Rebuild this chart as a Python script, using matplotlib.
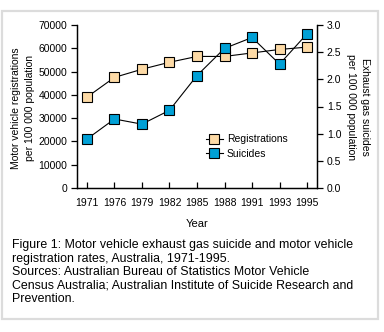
import matplotlib
matplotlib.use('Agg')
import matplotlib.pyplot as plt
from matplotlib.patches import Rectangle

years = ['1971', '1976', '1979', '1982', '1985', '1988', '1991', '1993', '1995']
registrations = [39000, 47500, 51000, 54000, 56500, 56500, 58000, 59500, 60500]
suicides = [0.90, 1.27, 1.175, 1.43, 2.07, 2.57, 2.77, 2.28, 2.84]

caption = ('Figure 1: Motor vehicle exhaust gas suicide and motor vehicle\n'
           'registration rates, Australia, 1971-1995.\n'
           'Sources: Australian Bureau of Statistics Motor Vehicle\n'
           'Census Australia; Australian Institute of Suicide Research and\n'
           'Prevention.')

plt.rcParams['font.family'] = ['Liberation Sans', 'DejaVu Sans']

W, H = 384, 332
fig = plt.figure(figsize=(W / 100, H / 100), dpi=100)

# grey frame around the whole figure
fig.patches.append(Rectangle((2 / W, 1 - 319 / H), 376 / W, 308.5 / H,
                             transform=fig.transFigure, fill=False,
                             edgecolor='#dcdcdc', linewidth=1.6))

ax = fig.add_axes([77 / W, 1 - 188 / H, 240 / W, 163 / H])
ax2 = ax.twinx()

x = list(range(len(years)))
ax.plot(x, registrations, color='black', linewidth=0.8, marker='s',
        markersize=6.5, markerfacecolor='#fddaa6', markeredgecolor='black',
        markeredgewidth=0.8, label='Registrations', zorder=3)
ax2.plot(x, suicides, color='black', linewidth=0.8, marker='s',
         markersize=6.5, markerfacecolor='#00a0d6', markeredgecolor='black',
         markeredgewidth=0.8, label='Suicides', zorder=3)

ax.set_xlim(-0.36, len(years) - 1 + 0.36)
ax.set_ylim(0, 70000)
ax2.set_ylim(0, 3.0)
ax.set_yticks(range(0, 70001, 10000))
ax2.set_yticks([0.0, 0.5, 1.0, 1.5, 2.0, 2.5, 3.0])
ax2.set_yticklabels(['0.0', '0.5', '1.0', '1.5', '2.0', '2.5', '3.0'])
ax.set_xticks(x)
ax.set_xticklabels(years)

for a in (ax, ax2):
    a.spines['top'].set_visible(False)
    for s in a.spines.values():
        s.set_linewidth(0.9)
    a.tick_params(labelsize=7.5, width=0.9, length=4)
ax.tick_params(axis='x', direction='in', pad=7)
ax.tick_params(axis='y', direction='out', pad=3)
ax2.tick_params(axis='y', direction='out', pad=3)

ax.set_xlabel('Year', fontsize=8, labelpad=8)

# axis titles placed by pixel, as in the reference
fig.text(23 / W, 1 - 108 / H,
         'Motor vehicle registrations\nper 100 000 population',
         fontsize=7.5, rotation=90, ha='center', va='center',
         linespacing=1.45)
fig.text(358 / W, 1 - 107 / H,
         'Exhaust gas suicides\nper 100 000 population',
         fontsize=7.5, rotation=-90, ha='center', va='center',
         linespacing=1.45)

h1, l1 = ax.get_legend_handles_labels()
h2, l2 = ax2.get_legend_handles_labels()
ax2.legend(h1 + h2, l1 + l2, loc='upper left',
           bbox_to_anchor=(0.52, 0.355), frameon=False, fontsize=7.5,
           handlelength=1.6, handletextpad=0.4, labelspacing=0.45,
           borderaxespad=0)

fig.text(12 / W, 1 - 239 / H, caption, fontsize=8.9, va='top', ha='left',
         linespacing=1.17)

fig.savefig('out.png', dpi=100)
